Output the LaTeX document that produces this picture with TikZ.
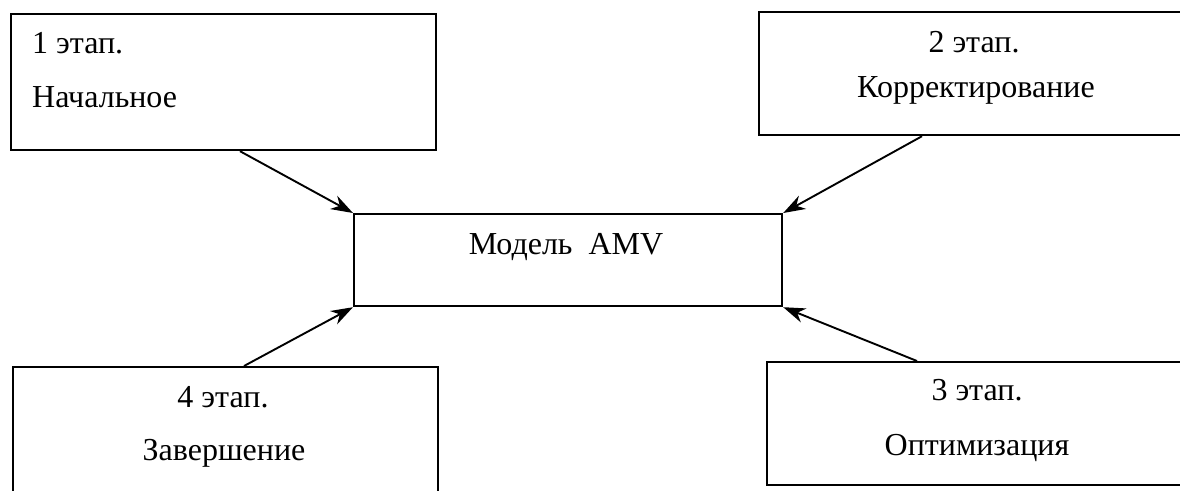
\documentclass[tikz,border=0pt]{standalone}
\usepackage{fontspec}
\setmainfont{Liberation Serif}
\newfontfamily\stagefont{Liberation Serif}
\usetikzlibrary{arrows.meta}

\tikzset{
  stagebox/.style={draw, line width=2.2pt, rectangle, inner sep=0pt, anchor=north west},
  lbl/.style={font=\stagefont\fontsize{32}{38}\selectfont, anchor=base, inner sep=0pt},
  link/.style={line width=1.9pt, -{Stealth[length=22pt,width=15pt,inset=7pt]}}
}

\begin{document}
\begin{tikzpicture}[x=1pt,y=-1pt]
    \useasboundingbox (0,0) rectangle (1180,490);
    \fill[white] (0,0) rectangle (1180,490);
    % boxes
    \node[stagebox, minimum width=425pt, minimum height=136pt] (b1) at (10,13) {};
    \node[stagebox, minimum width=437pt, minimum height=123pt] (b2) at (758,11) {};
    \node[stagebox, minimum width=428pt, minimum height=92pt] (bc) at (353,213) {};
    \node[stagebox, minimum width=429pt, minimum height=123pt] (b3) at (766,361) {};
    \node[stagebox, minimum width=425pt, minimum height=134pt] (b4) at (12,366) {};
    % texts
    \node[lbl, anchor=base west] (t1a) at (32,53) {1 этап.};
    \node[lbl, anchor=base west] (t1b) at (32,107) {Начальное};
    \node[lbl] (t2a) at (974,52) {2 этап.};
    \node[lbl] (t2b) at (976,97) {Корректирование};
    \node[lbl] (tc) at (566,254) {Модель \ AMV};
    \node[lbl] (t3a) at (977,400) {3 этап.};
    \node[lbl] (t3b) at (977,455) {Оптимизация};
    \node[lbl] (t4a) at (223,407) {4 этап.};
    \node[lbl] (t4b) at (224,460) {Завершение};
    % arrows
    \draw[link] ([xshift=230pt]b1.south west) -- (bc.north west);
    \draw[link] ([xshift=164pt]b2.south west) -- (bc.north east);
    \draw[link] ([xshift=151pt]b3.north west) -- (bc.south east);
    \draw[link] ([xshift=232pt]b4.north west) -- (bc.south west);
\end{tikzpicture}
\end{document}
